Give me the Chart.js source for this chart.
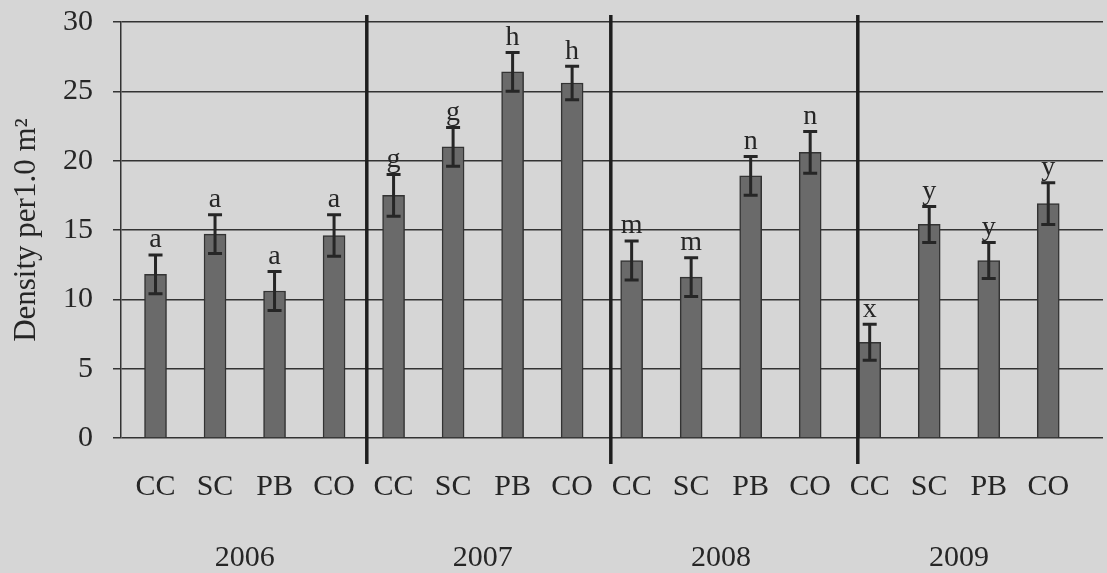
<!DOCTYPE html>
<html>
<head>
<meta charset="utf-8">
<script src="https://cdn.jsdelivr.net/npm/chart.js@4"></script>
<style>
  html, body { margin: 0; padding: 0; background: #d6d6d6; }
  #wrap { width: 1107px; height: 573px; }
</style>
</head>
<body>
<div id="wrap"><canvas id="c" width="1107" height="573"></canvas></div>
<script>
// --- data -----------------------------------------------------------
const treatments = ['CC', 'SC', 'PB', 'CO', 'CC', 'SC', 'PB', 'CO', 'CC', 'SC', 'PB', 'CO', 'CC', 'SC', 'PB', 'CO'];
const years = ['2006', '2007', '2008', '2009'];
const density = [11.8, 14.7, 10.6, 14.6, 17.5, 21.0, 26.4, 25.6, 12.8, 11.6, 18.9, 20.6, 6.9, 15.4, 12.8, 16.9];
const stdErr = [1.4, 1.4, 1.4, 1.5, 1.5, 1.4, 1.4, 1.2, 1.4, 1.4, 1.4, 1.5, 1.3, 1.3, 1.3, 1.5];
const letters = ['a', 'a', 'a', 'a', 'g', 'g', 'h', 'h', 'm', 'm', 'n', 'n', 'x', 'y', 'y', 'y'];
const yTicks = [0, 5, 10, 15, 20, 25, 30];

const SERIF = '"Liberation Serif", "DejaVu Serif", serif';
const INK = '#262626';

// year dividers sit a bit right of the gap in the original
const dividerAt = [3.55, 7.65, 11.8];

const paperBg = {
  id: 'paperBg',
  beforeDraw(chart) {
    const { ctx, width, height } = chart;
    ctx.save();
    ctx.fillStyle = '#d6d6d6';
    ctx.fillRect(0, 0, width, height);
    ctx.restore();
  }
};

const extras = {
  id: 'extras',
  afterDatasetsDraw(chart) {
    const { ctx, scales: { x, y } } = chart;
    ctx.save();

    // error bars
    ctx.strokeStyle = INK;
    ctx.lineWidth = 3;
    density.forEach((v, i) => {
      const px = x.getPixelForValue(i);
      const hi = y.getPixelForValue(v + stdErr[i]);
      const lo = y.getPixelForValue(v - stdErr[i]);
      ctx.beginPath();
      ctx.moveTo(px, hi); ctx.lineTo(px, lo);
      ctx.moveTo(px - 7, hi); ctx.lineTo(px + 7, hi);
      ctx.moveTo(px - 7, lo); ctx.lineTo(px + 7, lo);
      ctx.stroke();
    });

    // significance letters
    ctx.fillStyle = INK;
    ctx.font = `28px ${SERIF}`;
    ctx.textAlign = 'center';
    ctx.textBaseline = 'bottom';
    letters.forEach((l, i) => {
      const px = x.getPixelForValue(i);
      const hi = y.getPixelForValue(density[i] + stdErr[i]);
      ctx.fillText(l, px, hi - 1);
    });

    // year dividers
    ctx.strokeStyle = '#1e1e1e';
    ctx.lineWidth = 3.5;
    dividerAt.forEach(d => {
      const px = x.getPixelForValue(d);
      ctx.beginPath();
      ctx.moveTo(px, y.top - 7);
      ctx.lineTo(px, y.bottom + 26);
      ctx.stroke();
    });

    // year labels under each group of four
    ctx.font = `30px ${SERIF}`;
    ctx.textBaseline = 'middle';
    years.forEach((yr, k) => {
      ctx.fillText(yr, x.getPixelForValue(k * 4 + 1.5), 558);
    });
    ctx.restore();
  }
};

new Chart(document.getElementById('c'), {
  type: 'bar',
  data: {
    datasets: [{
      data: density.map((v, i) => ({ x: i, y: v })),
      backgroundColor: '#6a6a6a',
      borderColor: '#333333',
      borderWidth: 1.5,
      barThickness: 22,
    }]
  },
  options: {
    responsive: false,
    animation: false,
    layout: { padding: { top: 22, right: 4, left: 0, bottom: 0 } },
    plugins: { legend: { display: false }, tooltip: { enabled: false } },
    scales: {
      x: {
        type: 'linear',
        offset: false,
        min: -0.58,
        max: 15.92,
        afterBuildTicks: s => { s.ticks = treatments.map((t, i) => ({ value: i })); },
        afterFit: s => { s.height = 135; },
        grid: { display: false, drawTicks: false, offset: false },
        border: { display: false },
        ticks: {
          autoSkip: false,
          maxRotation: 0,
          padding: 31,
          color: INK,
          font: { family: SERIF, size: 30 },
          callback: v => treatments[v] ?? ''
        }
      },
      y: {
        min: 0,
        max: 30,
        afterBuildTicks: s => { s.ticks = yTicks.map(v => ({ value: v })); },
        afterFit: s => { s.width = 121; s.paddingTop = 0; s.paddingBottom = 0; },
        grid: { color: '#333333', lineWidth: 1.5, tickLength: 8, tickColor: '#333333' },
        border: { display: true, color: '#333333', width: 1.5 },
        ticks: {
          color: INK,
          padding: 20,
          font: { family: SERIF, size: 30, lineHeight: 0.6 }
        },
        title: {
          display: true,
          text: 'Density per1.0 m²',
          color: INK,
          font: { family: SERIF, size: 31 },
          padding: { top: 8, bottom: 0 }
        }
      }
    }
  },
  plugins: [paperBg, extras]
});
</script>
</body>
</html>
